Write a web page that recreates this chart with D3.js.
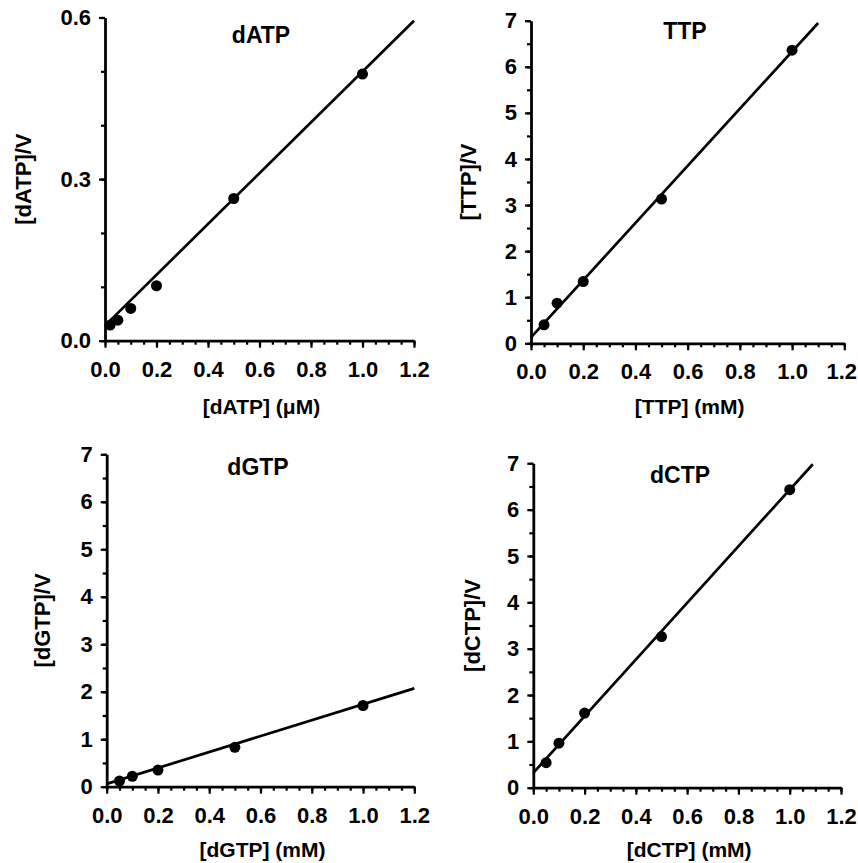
<!DOCTYPE html>
<html>
<head>
<meta charset="UTF-8" />
<script src="https://d3js.org/d3.v7.min.js"></script>
<title>Hanes plots</title>
<style>
  body { margin: 0; background: #fff; }
  svg text { font-family: "Liberation Sans", Arial, Helvetica, sans-serif; font-weight: bold; fill: #000; }
</style>
</head>
<body>
<div id="chart"></div>
<script>
// values
const names = ["dATP", "TTP", "dGTP", "dCTP"];
const xLabels = ["[dATP]  (\u03bcM)", "[TTP] (mM)", "[dGTP] (mM)", "[dCTP] (mM)"];
const yLabels = ["[dATP]/V", "[TTP]/V", "[dGTP]/V", "[dCTP]/V"];

const dATPx = [0.02, 0.05, 0.1, 0.2, 0.5, 1.0];
const dATPy = [0.029, 0.038, 0.060, 0.102, 0.264, 0.495];
const dATPfitX = [0, 1.2];
const dATPfitY = [0.028, 0.594];

const TTPx = [0.05, 0.1, 0.2, 0.5, 1.0];
const TTPy = [0.40, 0.87, 1.34, 3.13, 6.36];
const TTPfitX = [0, 1.1];
const TTPfitY = [0.13, 6.95];

const dGTPx = [0.05, 0.1, 0.2, 0.5, 1.0];
const dGTPy = [0.12, 0.22, 0.35, 0.83, 1.71];
const dGTPfitX = [0, 1.2];
const dGTPfitY = [0.06, 2.07];

const dCTPx = [0.05, 0.1, 0.2, 0.5, 1.0];
const dCTPy = [0.54, 0.96, 1.61, 3.26, 6.43];
const dCTPfitX = [0, 1.09];
const dCTPfitY = [0.32, 6.98];

const xMajor = [0, 0.2, 0.4, 0.6, 0.8, 1.0, 1.2];
const xMinor = d3.range(0, 1.2001, 0.05);
const yMajorA = [0, 0.3, 0.6];
const yMinorA = d3.range(0, 0.6001, 0.1);
const yMajorN = [0, 1, 2, 3, 4, 5, 6, 7];
const yMinorN = d3.range(0, 7.001, 0.5);

const pointsX = [dATPx, TTPx, dGTPx, dCTPx];
const pointsY = [dATPy, TTPy, dGTPy, dCTPy];
const fitsX = [dATPfitX, TTPfitX, dGTPfitX, dCTPfitX];
const fitsY = [dATPfitY, TTPfitY, dGTPfitY, dCTPfitY];
const yMax = [0.6, 7, 7, 7];

// layout of each panel (pixels)
const layout = [
  { x0: 105,   x1: 414,   yT: 17.5,  yB: 340.7, title: [261, 42.5],  yl: 23,    xl: 414 },
  { x0: 531,   x1: 844.3, yT: 20.7,  yB: 343.3, title: [685, 38.5],  yl: 468,   xl: 414 },
  { x0: 106.7, x1: 414.3, yT: 454.3, yB: 786.7, title: [258, 475],   yl: 42,    xl: 857 },
  { x0: 533.3, x1: 841,   yT: 463.3, yB: 787.7, title: [680, 482.5], yl: 471.7, xl: 857 }
];

const W = 858, H = 863;
const svg = d3.select("#chart").append("svg").attr("width", W).attr("height", H);

names.forEach((name, i) => {
  const L = layout[i];
  const x = d3.scaleLinear().domain([0, 1.2]).range([L.x0, L.x1]);
  const y = d3.scaleLinear().domain([0, yMax[i]]).range([L.yB, L.yT]);
  const g = svg.append("g");
  const isA = i === 0;

  // minor ticks
  g.append("g").attr("transform", `translate(0,${L.yB})`)
    .call(d3.axisBottom(x).tickValues(xMinor).tickSize(4).tickSizeOuter(0).tickFormat(""))
    .call(a => a.select(".domain").remove());
  g.append("g").attr("transform", `translate(${L.x0},0)`)
    .call(d3.axisLeft(y).tickValues(isA ? yMinorA : yMinorN).tickSize(4).tickSizeOuter(0).tickFormat(""))
    .call(a => a.select(".domain").remove());

  // major ticks + labels
  const xa = g.append("g").attr("transform", `translate(0,${L.yB})`)
    .call(d3.axisBottom(x).tickValues(xMajor).tickSize(7).tickSizeOuter(0).tickPadding(18)
      .tickFormat(d3.format(".1f")));
  g.append("g").attr("transform", `translate(${L.x0},0)`)
    .call(d3.axisLeft(y).tickValues(isA ? yMajorA : yMajorN).tickSize(6).tickSizeOuter(0).tickPadding(8)
      .tickFormat(isA ? d3.format(".1f") : d3.format("d")));

  g.selectAll(".tick line").attr("stroke", "#000").attr("stroke-width", 2.2);
  g.selectAll(".domain").attr("stroke", "#000").attr("stroke-width", 2.8);
  g.selectAll(".tick text").attr("font-size", 22);
  xa.selectAll(".tick text").attr("dy", "0.5em");
  // keep the last label inside the page edge
  xa.selectAll(".tick text").each(function () {
    const b = this.getBoundingClientRect();
    if (b.right > W - 1) d3.select(this).attr("x", -(b.right - W + 1));
  });

  // fit line
  const line = d3.line().x(d => x(d[0])).y(d => y(d[1]));
  g.append("path")
    .datum(fitsX[i].map((v, k) => [v, fitsY[i][k]]))
    .attr("d", line).attr("fill", "none").attr("stroke", "#000").attr("stroke-width", 2.7);

  // points
  g.selectAll("circle")
    .data(pointsX[i].map((v, k) => [v, pointsY[i][k]]))
    .join("circle")
    .attr("cx", d => x(d[0])).attr("cy", d => y(d[1])).attr("r", 5.5).attr("fill", "#000");

  // title
  g.append("text").attr("x", L.title[0]).attr("y", L.title[1])
    .attr("text-anchor", "middle").attr("font-size", 23).text(name);

  // axis labels
  g.append("text")
    .attr("transform", `translate(${L.yl},${(L.yT + L.yB) / 2}) rotate(-90)`)
    .attr("text-anchor", "middle").attr("dy", "0.36em").attr("font-size", 22).text(yLabels[i]);
  g.append("text").attr("x", (L.x0 + L.x1) / 2 + 2).attr("y", L.xl)
    .attr("text-anchor", "middle").attr("font-size", 21).text(xLabels[i]);
});
</script>
</body>
</html>
